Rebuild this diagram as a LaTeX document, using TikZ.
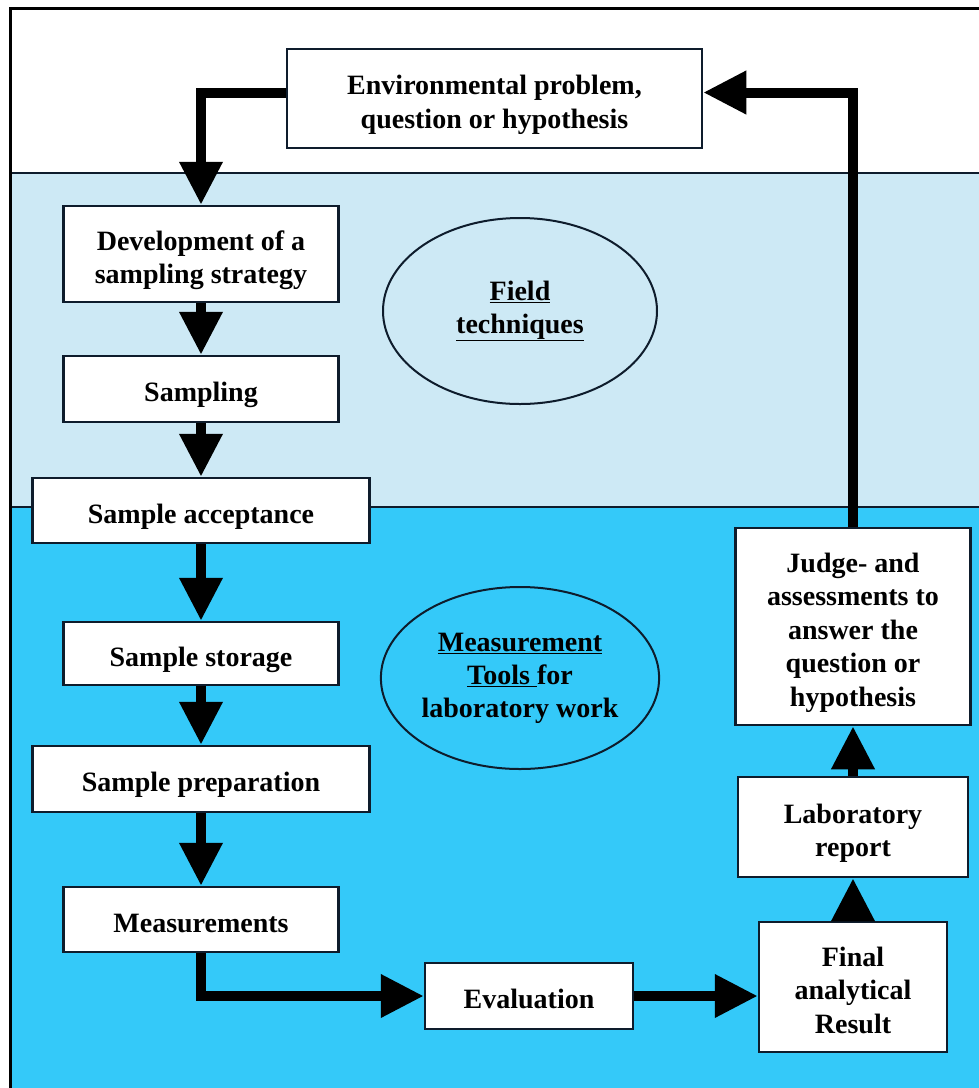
\documentclass[tikz,border=0pt]{standalone}
\usepackage{fontspec}
\setmainfont{Liberation Serif}
\usetikzlibrary{arrows.meta,shapes.geometric}
\definecolor{lightband}{HTML}{CDE9F5}
\definecolor{darkband}{HTML}{34C9F9}
\definecolor{edge}{HTML}{0E1C2C}
\newcommand\bxt[1]{\raisebox{-12.5pt}[0pt][0pt]{\begin{tabular}{@{}c@{}}#1\end{tabular}}}
\tikzset{
  box/.style={draw=edge, line width=2.5pt, fill=white, inner sep=0pt,
    font=\bfseries\fontsize{28}{33.5}\selectfont},
  oval/.style={draw=edge, line width=2pt, ellipse, inner sep=0pt, align=center,
    font=\bfseries\fontsize{28}{33}\selectfont},
  flow/.style={line width=10pt, black, -{Triangle[length=43pt,width=41pt]}},
}
\begin{document}
\begin{tikzpicture}[x=1pt,y=-1pt]
\useasboundingbox (0,0) rectangle (979,1088);
% bands
\fill[white] (0,0) rectangle (979,1088);
\fill[lightband] (10,173) rectangle (979,507);
\fill[darkband] (10,507) rectangle (979,1088);
\draw[edge, line width=2pt] (10,173) -- (979,173);
\draw[edge, line width=2pt] (10,507) -- (979,507);
\draw[black, line width=3pt] (10,1088) -- (10,8) -- (979,8);

% nodes
\node[box, minimum width=415pt, minimum height=99pt] (env) at (494.5,98.5) {\bxt{Environmental problem,\\question or hypothesis}};
\node[box, minimum width=275pt, minimum height=96pt] (dev) at (201,254) {\bxt{Development of a\\sampling strategy}};
\node[box, minimum width=275pt, minimum height=66pt] (samp) at (201,389) {\bxt{Sampling}};
\node[box, minimum width=337pt, minimum height=65pt] (acc) at (201,510.5) {\bxt{Sample acceptance}};
\node[box, minimum width=275pt, minimum height=63pt] (stor) at (201,653.5) {\bxt{Sample storage}};
\node[box, minimum width=337pt, minimum height=66pt] (prep) at (201,779) {\bxt{Sample preparation}};
\node[box, minimum width=275pt, minimum height=65pt] (meas) at (201,919.5) {\bxt{Measurements}};
\node[box, minimum width=208pt, minimum height=66pt] (eval) at (529,996) {\bxt{Evaluation}};
\node[box, minimum width=188pt, minimum height=130pt] (final) at (853,987) {\bxt{Final\\analytical\\Result}};
\node[box, minimum width=230pt, minimum height=100pt] (lab) at (853,827) {\bxt{Laboratory\\report}};
\node[box, minimum width=235pt, minimum height=197pt] (judge) at (853,626.5) {\bxt{Judge- and\\assessments to\\answer the\\question or\\hypothesis}};

\node[oval, minimum width=274pt, minimum height=186pt] (field) at (520,311) {\underline{Field}\\\underline{techniques}};
\node[oval, minimum width=274pt, minimum height=182pt] (tools) at (520,678) {\underline{Measurement}\\\underline{Tools\ }for\\laboratory work};

% connectors
\draw[flow] ([yshift=6pt]env.west) -| (dev.north);
\draw[flow] (dev.south) -- (samp.north);
\draw[flow] (samp.south) -- (acc.north);
\draw[flow] (acc.south) -- (stor.north);
\draw[flow] (stor.south) -- (prep.north);
\draw[flow] (prep.south) -- (meas.north);
\draw[flow] (meas.south) |- (eval.west);
\draw[flow] (eval.east) -- (eval.east -| final.west);
\draw[flow] (final.north) -- (lab.south);
\draw[flow] (lab.north) -- (judge.south);
\draw[flow] (judge.north) |- ([yshift=6pt]env.east);
\end{tikzpicture}
\end{document}
